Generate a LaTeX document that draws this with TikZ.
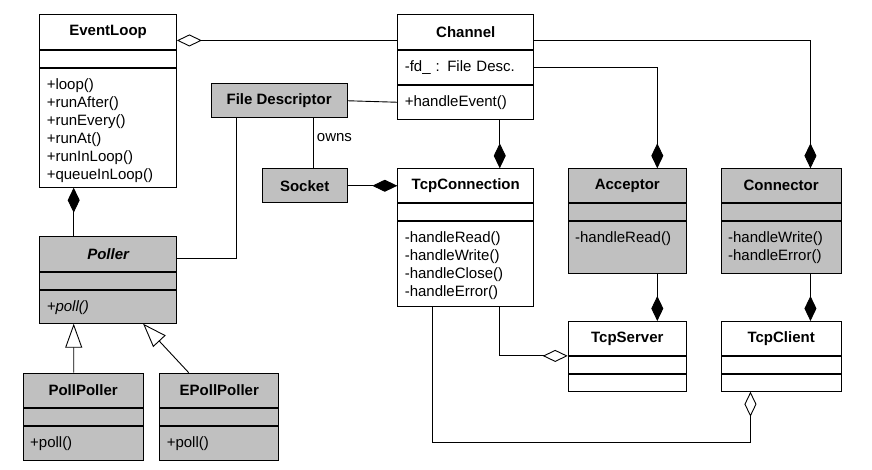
\documentclass[tikz,border=0pt]{standalone}
\usepackage{fontspec}
\setmainfont{Liberation Sans}
\usetikzlibrary{arrows.meta,positioning}
\definecolor{umlgray}{RGB}{192,192,192}
\newcommand{\umlsize}{\fontsize{15}{18}\selectfont}
\tikzstyle{head} = [rectangle, draw, fill=white, inner sep=0pt,
    minimum height=34pt, font=\umlsize\bfseries]
\tikzstyle{attr} = [rectangle, draw, fill=white, inner sep=0pt, minimum height=17pt]
\tikzstyle{ops} = [rectangle, draw, fill=white, align=left, inner xsep=7pt,
    inner ysep=8.8pt, text height=12.6pt]
\tikzstyle{line} = [draw]
\tikzstyle{comp} = [draw, -{Diamond[length=25pt,width=12pt]}]
\tikzstyle{aggr} = [draw, -{Diamond[open,length=25pt,width=12pt]}]
\tikzstyle{inherit} = [draw, -{Triangle[open,length=24pt,width=17pt]}]

\begin{document}
\begin{tikzpicture}[x=1pt, y=-1pt, line width=0.9pt, font=\umlsize]
	\useasboundingbox (0,0) rectangle (872,469);

	% left column
	\node [head, minimum width=136.7pt, minimum height=35pt, anchor=north west] (eventloop) at (39.3,14) {EventLoop};
	\node [attr, minimum width=136.7pt, below=0pt of eventloop] (eventloop-attr) {};
	\node [ops, text width=122.7pt, text depth=88.8pt, below=0pt of eventloop-attr] (eventloop-ops)
		{+loop()\\+runAfter()\\+runEvery()\\+runAt()\\+runInLoop()\\+queueInLoop()};

	\node [head, fill=umlgray, font=\umlsize\bfseries\itshape, minimum width=136.7pt, minimum height=35pt, anchor=north west] (poller) at (39.3,236) {Poller};
	\node [attr, fill=umlgray, minimum width=136.7pt, below=0pt of poller] (poller-attr) {};
	\node [ops, fill=umlgray, font=\umlsize\itshape, text width=122.7pt, text depth=2.8pt, below=0pt of poller-attr] (poller-ops) {+poll()};

	\node [head, fill=umlgray, minimum width=120pt, anchor=north west] (pollpoller) at (22.7,372.7) {PollPoller};
	\node [attr, fill=umlgray, minimum width=120pt, below=0pt of pollpoller] (pollpoller-attr) {};
	\node [ops, fill=umlgray, text width=106pt, text depth=3.8pt, below=0pt of pollpoller-attr] (pollpoller-ops) {+poll()};

	\node [head, fill=umlgray, minimum width=119pt, anchor=north west] (epollpoller) at (159.3,372.7) {EPollPoller};
	\node [attr, fill=umlgray, minimum width=119pt, below=0pt of epollpoller] (epollpoller-attr) {};
	\node [ops, fill=umlgray, text width=105pt, text depth=3.8pt, below=0pt of epollpoller-attr] (epollpoller-ops) {+poll()};

	% middle
	\node [head, fill=umlgray, minimum width=136pt, anchor=north west] (filedesc) at (210.7,83.3) {File Descriptor};
	\node [head, fill=umlgray, minimum width=85pt, anchor=north west] (socket) at (261.7,168.3) {Socket};

	\node [head, minimum width=136pt, minimum height=35pt, anchor=north west] (channel) at (397.3,14) {Channel};
	\node [ops, text width=122pt, text depth=3.8pt, below=0pt of channel] (channel-attr) {-fd\_ : File Desc.};
	\node [ops, text width=122pt, text depth=3.8pt, below=0pt of channel-attr] (channel-ops) {+handleEvent()};

	\node [head, minimum width=136pt, anchor=north west] (tcpconn) at (397.3,168.3) {TcpConnection};
	\node [attr, minimum width=136pt, below=0pt of tcpconn] (tcpconn-attr) {};
	\node [ops, text width=122pt, text depth=54.8pt, below=0pt of tcpconn-attr] (tcpconn-ops)
		{-handleRead()\\-handleWrite()\\-handleClose()\\-handleError()};

	% right side
	\node [head, fill=umlgray, minimum width=118.3pt, anchor=north west] (acceptor) at (567.7,168.3) {Acceptor};
	\node [attr, fill=umlgray, minimum width=118.3pt, below=0pt of acceptor] (acceptor-attr) {};
	\node [ops, fill=umlgray, text width=104.3pt, text depth=21.2pt, below=0pt of acceptor-attr] (acceptor-ops) {-handleRead()};

	\node [head, fill=umlgray, minimum width=120pt, anchor=north west] (connector) at (720.7,168.3) {Connector};
	\node [attr, fill=umlgray, minimum width=120pt, below=0pt of connector] (connector-attr) {};
	\node [ops, fill=umlgray, text width=106pt, text depth=21.2pt, below=0pt of connector-attr] (connector-ops)
		{-handleWrite()\\-handleError()};

	\node [head, minimum width=118.3pt, anchor=north west] (tcpserver) at (567.7,321) {TcpServer};
	\node [attr, minimum width=118.3pt, below=0pt of tcpserver] (tcpserver-attr) {};
	\node [attr, minimum width=118.3pt, below=0pt of tcpserver-attr] (tcpserver-ops) {};

	\node [head, minimum width=120pt, anchor=north west] (tcpclient) at (720.7,321) {TcpClient};
	\node [attr, minimum width=120pt, below=0pt of tcpclient] (tcpclient-attr) {};
	\node [attr, minimum width=120pt, below=0pt of tcpclient-attr] (tcpclient-ops) {};

	% relations
	\path [aggr] ([yshift=-8.5pt]channel.west) -- ([yshift=-8.5pt]eventloop.east);
	\path [line] (filedesc.east) -- (channel-ops.west);
	\path [line] ([xshift=34pt]filedesc.south) -- node [right, pos=0.38] {owns} ([xshift=34pt]filedesc.south |- socket.north);
	\path [line] ([xshift=-43pt]filedesc.south) |- ([yshift=-4pt]poller.east);
	\path [comp] (socket.east) -- (tcpconn.west);
	\path [comp] ([xshift=34pt]channel-ops.south) -- ([xshift=34pt]tcpconn.north);
	\path [comp] (channel-attr.east) -| ([xshift=30pt]acceptor.north);
	\path [comp] ([yshift=-8.5pt]channel.east) -| ([xshift=29.3pt]connector.north);
	\path [comp] ([xshift=-34.4pt]poller.north) -- ([xshift=-34.4pt]eventloop-ops.south);
	\path [inherit] ([xshift=-9.4pt]pollpoller.north) -- ([xshift=-34.4pt]poller-ops.south);
	\path [inherit] ([xshift=-30.5pt]epollpoller.north) -- ([xshift=35pt]poller-ops.south);
	\path [comp] ([xshift=30pt]acceptor-ops.south) -- ([xshift=30pt]tcpserver.north);
	\path [comp] ([xshift=29.3pt]connector-ops.south) -- ([xshift=29.3pt]tcpclient.north);
	\path [aggr] ([xshift=34pt]tcpconn-ops.south) |- (tcpserver.south west);
	\path [aggr] ([xshift=-33.6pt]tcpconn-ops.south) |- ([xshift=-30.7pt,yshift=-50.7pt]tcpclient-ops.south) -- ([xshift=-30.7pt]tcpclient-ops.south);
\end{tikzpicture}
\end{document}
